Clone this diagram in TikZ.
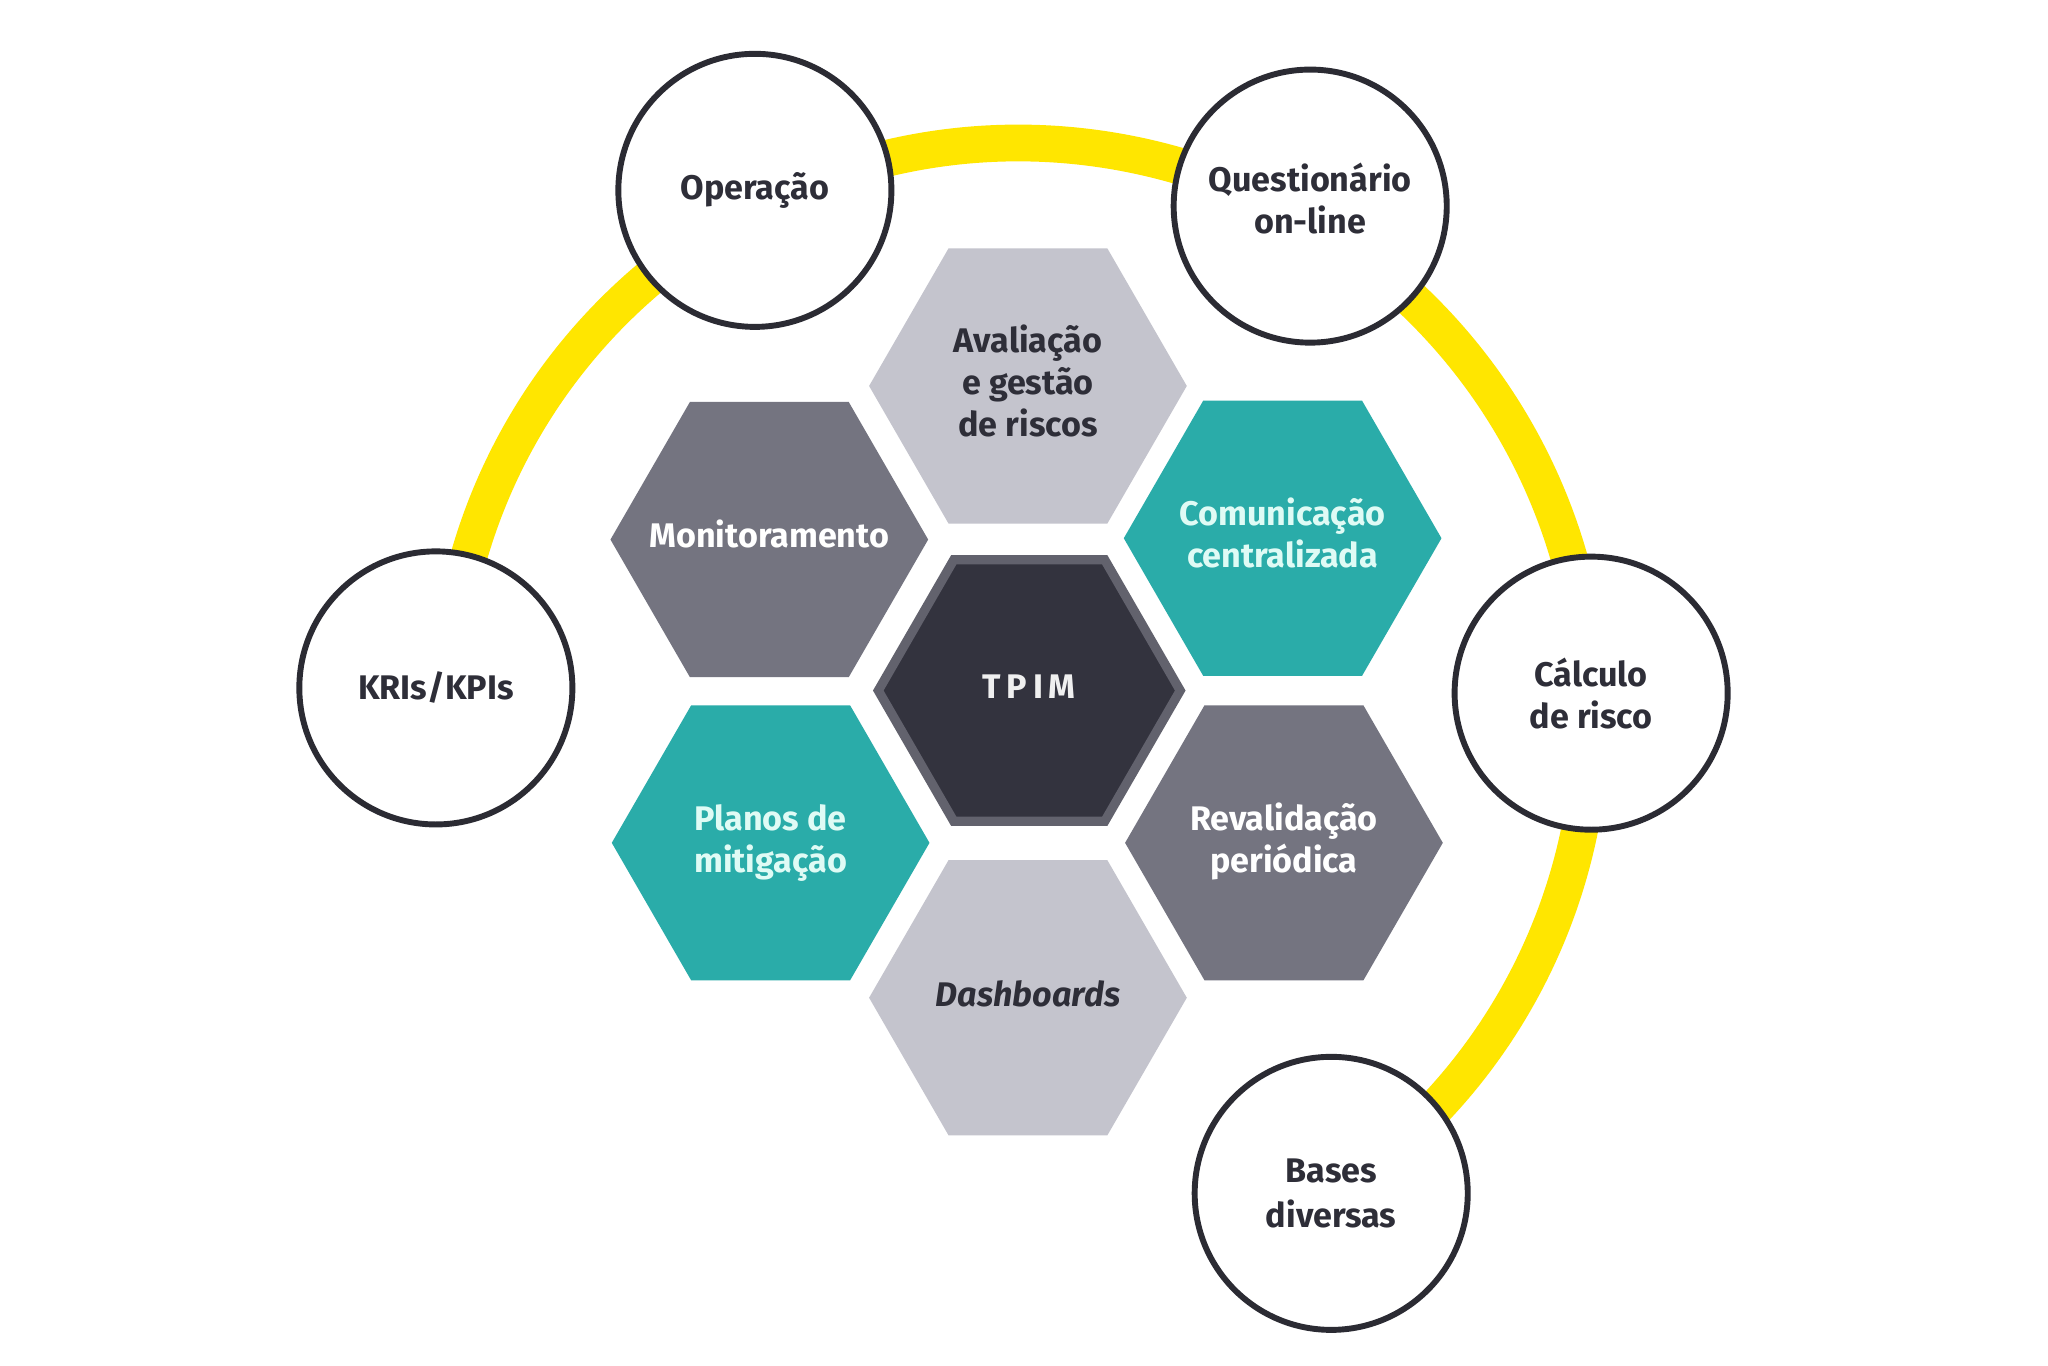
\documentclass[tikz,border=0pt]{standalone}
\usepackage{fontspec}
\setmainfont{Fira Sans}
\usetikzlibrary{shapes.geometric}
\definecolor{ringyellow}{HTML}{FFE600}
\definecolor{circborder}{HTML}{2B2B33}
\definecolor{hexlight}{HTML}{C4C4CD}
\definecolor{hexmid}{HTML}{747480}
\definecolor{hexteal}{HTML}{2AACA9}
\definecolor{hexdark}{HTML}{33333E}
\definecolor{hexdarkrim}{HTML}{62626D}
\definecolor{textdark}{HTML}{2E2E38}
\definecolor{tealtext}{HTML}{DFFBF5}
\newcommand{\hexlbl}[1]{\makebox[0pt]{\begin{tabular}{@{}c@{}}#1\end{tabular}}}
\begin{document}
\begin{tikzpicture}[x=1pt,y=1pt,
  lblfont/.style={font={\fontsize{26pt}{32pt}\selectfont\bfseries}},
  hexbox/.style={regular polygon, regular polygon sides=6, minimum size=242pt,
    inner sep=0pt, outer sep=0pt, lblfont},
  lighthex/.style={hexbox, fill=hexlight, text=textdark},
  midhex/.style={hexbox, fill=hexmid, text=white},
  tealhex/.style={hexbox, fill=hexteal, text=tealtext},
  tpimhex/.style={hexbox, minimum size=230pt, fill=hexdark, draw=hexdarkrim,
    line width=7pt, text=white!94!black},
  ringcircle/.style={circle, minimum size=208pt, inner sep=0pt, fill=white,
    draw=circborder, line width=4.5pt, align=center, text=textdark, lblfont},
  ringband/.style={draw=ringyellow, line width=28pt}
]
\useasboundingbox[fill=white] (0,0) rectangle (1560,-1040);

% yellow ring
\coordinate (ringc) at (776,-545);
\draw[ringband] (ringc) ++(168:436) arc[start angle=168, end angle=-48, radius=436];

% hexagons
\node[lighthex] (aval) at (783,-294) {\hexlbl{Avaliação\\e gestão\\de riscos}};
\node[midhex] (moni) at (586,-411) {\hexlbl{Monitoramento}};
\node[tealhex] (comu) at (977,-410) {\hexlbl{Comunicação\\centralizada}};
\node[tpimhex] (tpim) at (784,-526) {\hexlbl{\addfontfeature{LetterSpace=17}TPIM}};
\node[tealhex] (plan) at (587,-642) {\hexlbl{Planos de\\mitigação}};
\node[midhex] (reva) at (978,-642) {\hexlbl{Revalidação\\periódica}};
\node[lighthex, font={\fontsize{26pt}{32pt}\selectfont\bfseries\itshape}] (dash) at (783,-760) {\hexlbl{Dashboards}};

% circles on the ring
\node[ringcircle] (oper) at (575,-145) {Operação};
\node[ringcircle, label={[name=queslbl, lblfont, text=textdark, align=center, yshift=6pt]center:Questionário\\on-line}] (ques) at (998,-157) {};
\node[ringcircle] (kris) at (332,-524) {KRIs/KPIs};
\node[ringcircle] (calc) at (1212,-528) {Cálculo\\de risco};
\node[ringcircle, font={\fontsize{26pt}{34pt}\selectfont\bfseries}] (base) at (1014,-909) {Bases\\diversas};
\end{tikzpicture}
\end{document}
